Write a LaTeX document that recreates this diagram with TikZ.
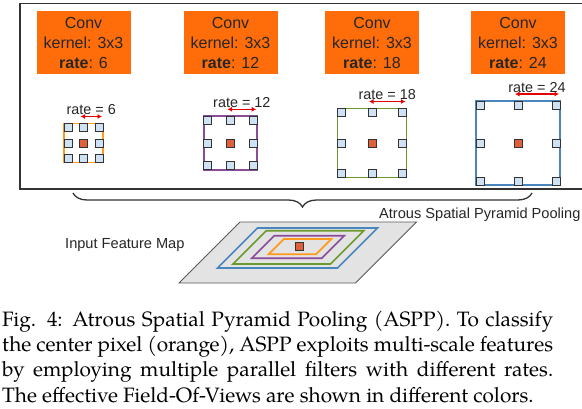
\documentclass[tikz,border=0pt]{standalone}
\usepackage{fontspec}
\setmainfont{Liberation Sans}
\newfontfamily\capfont{TeX Gyre Pagella}
\usetikzlibrary{decorations.pathreplacing,arrows.meta}

\definecolor{convorange}{HTML}{FF6D0A}
\definecolor{fovorange}{HTML}{FF9A1F}
\definecolor{fovpurple}{HTML}{8A4C9A}
\definecolor{fovgreen}{HTML}{6A9A2E}
\definecolor{fovblue}{HTML}{4A86BE}
\definecolor{tapblue}{HTML}{CFE2F3}
\definecolor{centerred}{HTML}{E0603A}
\definecolor{linegray}{HTML}{333333}
\definecolor{mapgray}{HTML}{E3E3E3}

\tikzset{
  convbox/.style={fill=convorange, minimum width=94pt, minimum height=63pt, inner sep=0pt,
    align=center, text=black!85, font=\fontsize{16}{20}\selectfont},
  tap/.style={draw=linegray, fill=tapblue, minimum size=8pt, inner sep=0pt, line width=0.8pt},
  centertap/.style={tap, fill=centerred},
  ratelabel/.style={anchor=south, inner sep=1pt, text=black!85, font=\fontsize{14.4}{17}\selectfont},
  ratearrow/.style={{Latex[length=4.5pt,width=5pt]}-{Latex[length=4.5pt,width=5pt]}, red!90!black, line width=1.3pt},
  plainlabel/.style={anchor=base west, inner sep=0pt, text=black!85, font=\fontsize{14.6}{17}\selectfont},
}

\begin{document}
\begin{tikzpicture}[x=1pt,y=-1pt]
  \useasboundingbox (0,0) rectangle (582,408);
  %% frame round the parallel branches
  \draw[linegray,line width=1.2pt] (20,3.5) rectangle (584,189);
  %% branches: centre x / tap spacing / rate / colour
  \foreach \cx/\gap/\r/\col [count=\i] in {83.5/15.5/6/fovorange,230.5/22.7/12/fovpurple,372/30.5/18/fovgreen,518/38/24/fovblue}{
    \node[convbox] (conv\i) at (\cx,42.5) {Conv\\kernel: 3x3\\\textbf{rate}: \r};
    \draw[\col,line width=1.7pt] (\cx-\gap-4,143-\gap-4) rectangle (\cx+\gap+4,143+\gap+4);
    \foreach \u/\v/\pos in {-1/-1/nw,0/-1/n,1/-1/ne,-1/0/w,1/0/e,-1/1/sw,0/1/s,1/1/se}
      \node[tap] (\pos\i) at (\cx+\u*\gap,143+\v*\gap) {};
    \node[centertap] (mid\i) at (\cx,143) {};
    \draw[ratearrow] ([xshift=-3pt,yshift=11pt]n\i.center) -- ([xshift=3pt,yshift=11pt]ne\i.center)
      node[ratelabel,midway] (rate\i) {rate = \r};
  }
  %% brace and its label
  \coordinate (braceL) at (73,193);
  \coordinate (braceR) at (532,193);
  \draw[linegray,line width=1.3pt,decorate,decoration={brace,amplitude=14pt,mirror}] (braceL) -- (braceR);
  \node[plainlabel] (aspp) at (379,218.3) {Atrous Spatial Pyramid Pooling};
  %% input feature map
  \node[plainlabel] (input) at (65,248.3) {Input Feature Map};
  \begin{scope}[shift={(298,247.5)},xslant=1]
    \draw[draw=black!65,fill=mapgray,line width=0.9pt] (-83.5,-25.5) rectangle (93,35.5);
    \draw[fovblue,line width=1.7pt] (-60,-19.5) rectangle (60,20.5);
    \draw[fovgreen,line width=1.7pt] (-48.5,-16.8) rectangle (49,16.5);
    \draw[fovpurple,line width=1.7pt] (-35.5,-11.8) rectangle (34.5,10.8);
    \draw[fovorange,line width=1.7pt] (-22.7,-8.5) rectangle (24.8,6.8);
  \end{scope}
  \node[centertap] (pixel) at (299.5,246.3) {};
  %% caption
  \node[anchor=base west,inner sep=0pt,text width=551pt,align=justify,
        font=\capfont\fontsize{20.8}{25.4}\selectfont] (caption) at (2,326)
    {Fig. 4: Atrous Spatial Pyramid Pooling (ASPP). To classify\linebreak
     the center pixel (orange), ASPP exploits multi-scale features\linebreak
     by employing multiple parallel filters with different rates.\linebreak
     The effective Field-Of-Views are shown in different colors.};
\end{tikzpicture}
\end{document}
